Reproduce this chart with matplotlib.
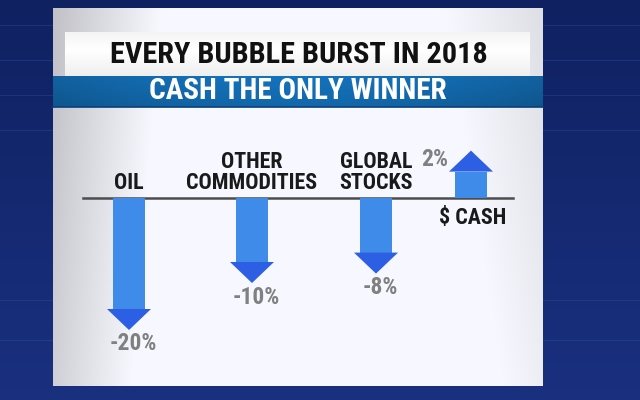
import numpy as np
import matplotlib.pyplot as plt
from matplotlib import font_manager as fm
from matplotlib.patches import Rectangle, Polygon

# dati
categorie = ['OIL', 'OTHER\nCOMMODITIES', 'GLOBAL\nSTOCKS', '$ CASH']
variazioni = [-20, -10, -8, 2]
etichette = ['-20%', '-10%', '-8%', '2%']
titolo = 'EVERY BUBBLE BURST IN 2018'
sottotitolo = 'CASH THE ONLY WINNER'

# scelta di un carattere stretto tra quelli installati
fonts = fm.fontManager.ttflist
famiglia, stretch = 'Roboto', 'normal'
for nome in ['Roboto Condensed', 'Liberation Sans Narrow']:
    if any(f.name == nome for f in fonts):
        famiglia = nome
        break
else:
    if any(f.name == 'DejaVu Sans' and 'Condensed' in f.fname and 'Bold' in f.fname for f in fonts):
        famiglia, stretch = 'DejaVu Sans', 'condensed'
plt.rcParams['font.family'] = [famiglia, 'DejaVu Sans']
plt.rcParams['font.stretch'] = stretch

fig = plt.figure(figsize=(6.4, 4), dpi=100)
ax = fig.add_axes([0, 0, 1, 1])
ax.set_xlim(0, 640)
ax.set_ylim(400, 0)
ax.axis('off')
renderer = fig.canvas.get_renderer()

def adatta(testo, larghezza):
    w = testo.get_window_extent(renderer).width
    testo.set_fontsize(testo.get_fontsize() * larghezza / w)
    return testo.get_fontsize()

# sfondo blu scuro
yy, xx = np.mgrid[0:1:200j, 0:1:320j]
sfondo = np.zeros((200, 320, 3))
sfondo[..., 0] = 0.06 + 0.04 * yy
sfondo[..., 1] = 0.13 + 0.06 * yy
sfondo[..., 2] = 0.38 + 0.12 * yy
ax.imshow(sfondo, extent=[0, 640, 400, 0], aspect='auto', zorder=0)
for y in [25, 60, 95, 130, 300, 340]:
    ax.plot([0, 640], [y, y], color='#3a5bb0', lw=0.6, alpha=0.35, zorder=1)

# pannello chiaro con sfumatura
px = np.linspace(0, 1, 300)
prof = np.clip(0.78 + 0.22 * np.minimum(px / 0.22, 1) - 0.1 * np.clip((px - 0.8) / 0.2, 0, 1), 0, 1)
pv = np.linspace(0, 1, 150)[:, None]
lum = np.clip(prof[None, :] + 0.06 * pv, 0, 1)
pannello = np.stack([lum * 0.97, lum * 0.97, lum], axis=-1)
ax.imshow(pannello, extent=[53, 543, 386, 8], aspect='auto', zorder=2)

# barra blu del sottotitolo
bv = np.linspace(0, 1, 40)[:, None]
bh = np.linspace(0, 1, 200)[None, :]
fasc = 0.85 + 0.15 * np.sin(np.pi * bh) - 0.1 * bv
barra = np.stack([0.08 * fasc, 0.45 * fasc, 0.74 * fasc], axis=-1)
ax.imshow(np.clip(barra, 0, 1), extent=[53, 543, 107, 76], aspect='auto', zorder=3)
ax.plot([53, 543], [107, 107], color='#0b3f7a', lw=1.2, zorder=3)

# riquadro del titolo
tv = np.linspace(0, 1, 40)[:, None] * np.ones((1, 10))
tl = 0.9 + 0.1 * (1 - np.abs(tv - 0.4))
riquadro = np.stack([tl, tl, tl], axis=-1)
ax.imshow(np.clip(riquadro, 0, 1), extent=[65, 530, 76, 32], aspect='auto', zorder=4)
t = ax.text(299, 55, titolo, ha='center', va='center', fontsize=23, fontweight='bold',
            color='#111111', zorder=5)
adatta(t, 379)
t = ax.text(298, 91, sottotitolo, ha='center', va='center', fontsize=19, fontweight='bold',
            color='white', zorder=5)
adatta(t, 297)

# linea di base e frecce
base = 198
centri = [129, 252, 376, 471]
ax.plot([83, 513], [base, base], color='#4d4d4d', lw=1.8, zorder=5)

prova = ax.text(0, 0, 'COMMODITIES', fontsize=14, fontweight='bold')
fs_cat = adatta(prova, 132)
prova.remove()
prova = ax.text(0, 0, '-20%', fontsize=14, fontweight='bold')
fs_val = adatta(prova, 47)
prova.remove()

def punta(v):
    return base - np.sign(v) * (38 + 4.7 * abs(v))

colore_asta = '#3f8bea'
colore_testa = '#2c5fe4'
for cx, v, cat, lab in zip(centri, variazioni, categorie, etichette):
    yt = punta(v)
    s = np.sign(v)
    yh = yt + s * 21
    ax.add_patch(Rectangle((cx - 16, min(base, yh)), 32, abs(yh - base),
                           facecolor=colore_asta, edgecolor='none', zorder=6))
    ax.add_patch(Polygon([(cx - 22, yh), (cx + 22, yh), (cx, yt)], closed=True,
                         facecolor=colore_testa, edgecolor='none', zorder=7))
    if v < 0:
        ax.text(cx + 4, yt + 14, lab, ha='center', va='center', fontsize=fs_val,
                fontweight='bold', color='#808080', zorder=7)
        ax.text(cx, base - 4, cat, ha='center', va='bottom', fontsize=fs_cat,
                fontweight='bold', color='#1a1a1a', linespacing=0.95, zorder=7)
    else:
        ax.text(cx - 23, yt + 9, lab, ha='right', va='center', fontsize=fs_val,
                fontweight='bold', color='#808080', zorder=7)
        ax.text(cx + 2, base + 20, cat, ha='center', va='center', fontsize=fs_cat,
                fontweight='bold', color='#1a1a1a', zorder=7)

fig.savefig('out.png', dpi=100)
